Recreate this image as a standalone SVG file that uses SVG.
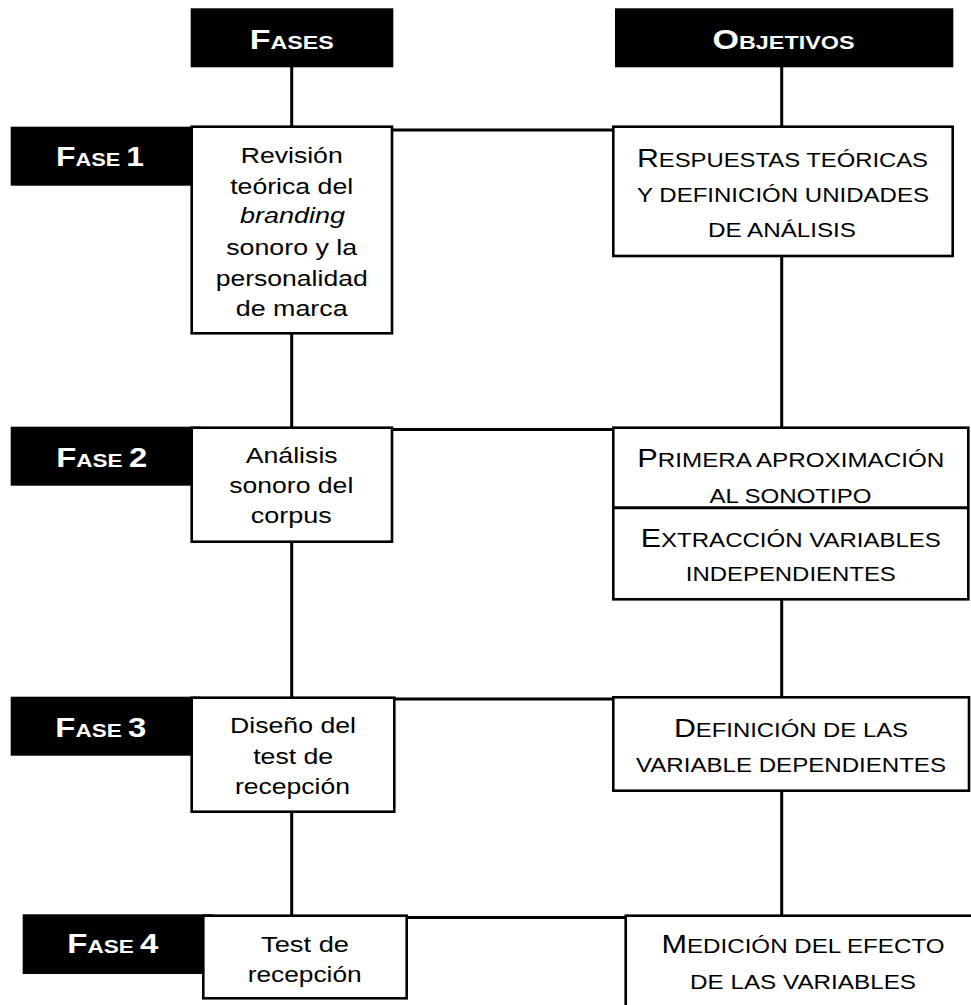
<svg xmlns="http://www.w3.org/2000/svg" width="971" height="1005" viewBox="0 0 971 1005">
<style>
.blk{fill:#000;stroke:none}
.box{fill:#fff;stroke:#000;stroke-width:2.6}
.ln{stroke:#000;stroke-width:3;fill:none}
text{font-family:"Liberation Sans",Arial,sans-serif;text-anchor:middle}
.hdr{fill:#fff;font-weight:bold;font-size:18.5px}
.hc{font-size:27px}
.body{fill:#000;font-size:22px}
.sc{fill:#000;font-size:20.5px}
.bc{font-size:26px}
</style>
<rect width="971" height="1005" fill="#fff"/>
<g id="connectors">
<line class="ln" x1="291.7" y1="66" x2="291.7" y2="916"/>
<line class="ln" x1="781.7" y1="66" x2="781.7" y2="916"/>
<line class="ln" x1="392" y1="130" x2="614" y2="130"/>
<line class="ln" x1="392" y1="429.5" x2="614" y2="429.5"/>
<line class="ln" x1="394" y1="699" x2="614" y2="699"/>
<line class="ln" x1="406" y1="917.5" x2="626" y2="917.5"/>
</g>
<g id="hdr-fases">
<rect class="blk" x="190.7" y="8.3" width="202.6" height="59"/>
<text class="hdr" x="291.7" y="49.3" textLength="84" lengthAdjust="spacingAndGlyphs"><tspan class="hc">F</tspan>ASES</text>
</g>
<g id="hdr-objetivos">
<rect class="blk" x="615" y="8.3" width="338.3" height="59"/>
<text class="hdr" x="783.5" y="49.3" textLength="142" lengthAdjust="spacingAndGlyphs"><tspan class="hc">O</tspan>BJETIVOS</text>
</g>
<g id="fase1">
<rect class="blk" x="10.7" y="126.7" width="190" height="59"/>
<rect class="box" x="191.7" y="126.7" width="200.3" height="206.6"/>
<text class="hdr" x="100" y="166" textLength="88" lengthAdjust="spacingAndGlyphs"><tspan class="hc">F</tspan>ASE <tspan class="hc">1</tspan></text>
<text class="body" x="291.7" y="163.3" textLength="102" lengthAdjust="spacingAndGlyphs">Revisión</text>
<text class="body" x="291.7" y="194" textLength="123" lengthAdjust="spacingAndGlyphs">teórica del</text>
<text class="body" x="292.5" y="223" textLength="105" lengthAdjust="spacingAndGlyphs" font-style="italic">branding</text>
<text class="body" x="291.7" y="254.5" textLength="131" lengthAdjust="spacingAndGlyphs">sonoro y la</text>
<text class="body" x="291.7" y="285.5" textLength="152" lengthAdjust="spacingAndGlyphs">personalidad</text>
<text class="body" x="291.7" y="315.5" textLength="112" lengthAdjust="spacingAndGlyphs">de marca</text>
</g>
<g id="obj1">
<rect class="box" x="613.3" y="126.7" width="339.4" height="129.3"/>
<text class="sc" x="782.5" y="166.7" textLength="291" lengthAdjust="spacingAndGlyphs"><tspan class="bc">R</tspan>ESPUESTAS TEÓRICAS</text>
<text class="sc" x="783" y="201.7" textLength="292" lengthAdjust="spacingAndGlyphs">Y DEFINICIÓN UNIDADES</text>
<text class="sc" x="782" y="237.3" textLength="148" lengthAdjust="spacingAndGlyphs">DE ANÁLISIS</text>
</g>
<g id="fase2">
<rect class="blk" x="10.7" y="426.7" width="190" height="59"/>
<rect class="box" x="191.7" y="427.7" width="200.3" height="114"/>
<text class="hdr" x="101.7" y="466.7" textLength="91" lengthAdjust="spacingAndGlyphs"><tspan class="hc">F</tspan>ASE <tspan class="hc">2</tspan></text>
<text class="body" x="291.7" y="462.7" textLength="92" lengthAdjust="spacingAndGlyphs">Análisis</text>
<text class="body" x="291.3" y="493.3" textLength="124" lengthAdjust="spacingAndGlyphs">sonoro del</text>
<text class="body" x="291.3" y="523.3" textLength="81" lengthAdjust="spacingAndGlyphs">corpus</text>
</g>
<g id="obj2">
<rect class="box" x="613.3" y="427.7" width="355" height="171.6"/>
<line class="ln" x1="613.3" y1="507.7" x2="968.3" y2="507.7"/>
<text class="sc" x="790.8" y="466.7" textLength="307" lengthAdjust="spacingAndGlyphs"><tspan class="bc">P</tspan>RIMERA APROXIMACIÓN</text>
<text class="sc" x="790.4" y="502.5" textLength="162" lengthAdjust="spacingAndGlyphs">AL SONOTIPO</text>
<text class="sc" x="790.8" y="547.3" textLength="300" lengthAdjust="spacingAndGlyphs"><tspan class="bc">E</tspan>XTRACCIÓN VARIABLES</text>
<text class="sc" x="790.8" y="580.7" textLength="210" lengthAdjust="spacingAndGlyphs">INDEPENDIENTES</text>
</g>
<g id="fase3">
<rect class="blk" x="10.7" y="696.7" width="190" height="59"/>
<rect class="box" x="191.7" y="697.7" width="202.6" height="114"/>
<text class="hdr" x="100.8" y="736.7" textLength="91" lengthAdjust="spacingAndGlyphs"><tspan class="hc">F</tspan>ASE <tspan class="hc">3</tspan></text>
<text class="body" x="293" y="733.3" textLength="126" lengthAdjust="spacingAndGlyphs">Diseño del</text>
<text class="body" x="293.2" y="764.3" textLength="80" lengthAdjust="spacingAndGlyphs">test de</text>
<text class="body" x="292.5" y="794.3" textLength="115" lengthAdjust="spacingAndGlyphs">recepción</text>
</g>
<g id="obj3">
<rect class="box" x="613.3" y="697.3" width="355.7" height="93.4"/>
<text class="sc" x="791" y="736.7" textLength="234" lengthAdjust="spacingAndGlyphs"><tspan class="bc">D</tspan>EFINICIÓN DE LAS</text>
<text class="sc" x="791" y="772.3" textLength="310" lengthAdjust="spacingAndGlyphs">VARIABLE DEPENDIENTES</text>
</g>
<g id="fase4">
<rect class="blk" x="22.7" y="914.3" width="190" height="59.7"/>
<rect class="box" x="203.3" y="915.7" width="203.4" height="82.6"/>
<text class="hdr" x="112.8" y="953.3" textLength="91" lengthAdjust="spacingAndGlyphs"><tspan class="hc">F</tspan>ASE <tspan class="hc">4</tspan></text>
<text class="body" x="305" y="952.3" textLength="88" lengthAdjust="spacingAndGlyphs">Test de</text>
<text class="body" x="304.7" y="981.7" textLength="114" lengthAdjust="spacingAndGlyphs">recepción</text>
</g>
<g id="obj4">
<rect class="box" x="625.7" y="915.7" width="380" height="120"/>
<text class="sc" x="803" y="953.3" textLength="283" lengthAdjust="spacingAndGlyphs"><tspan class="bc">M</tspan>EDICIÓN DEL EFECTO</text>
<text class="sc" x="803" y="989" textLength="226" lengthAdjust="spacingAndGlyphs">DE LAS VARIABLES</text>
</g>
</svg>
